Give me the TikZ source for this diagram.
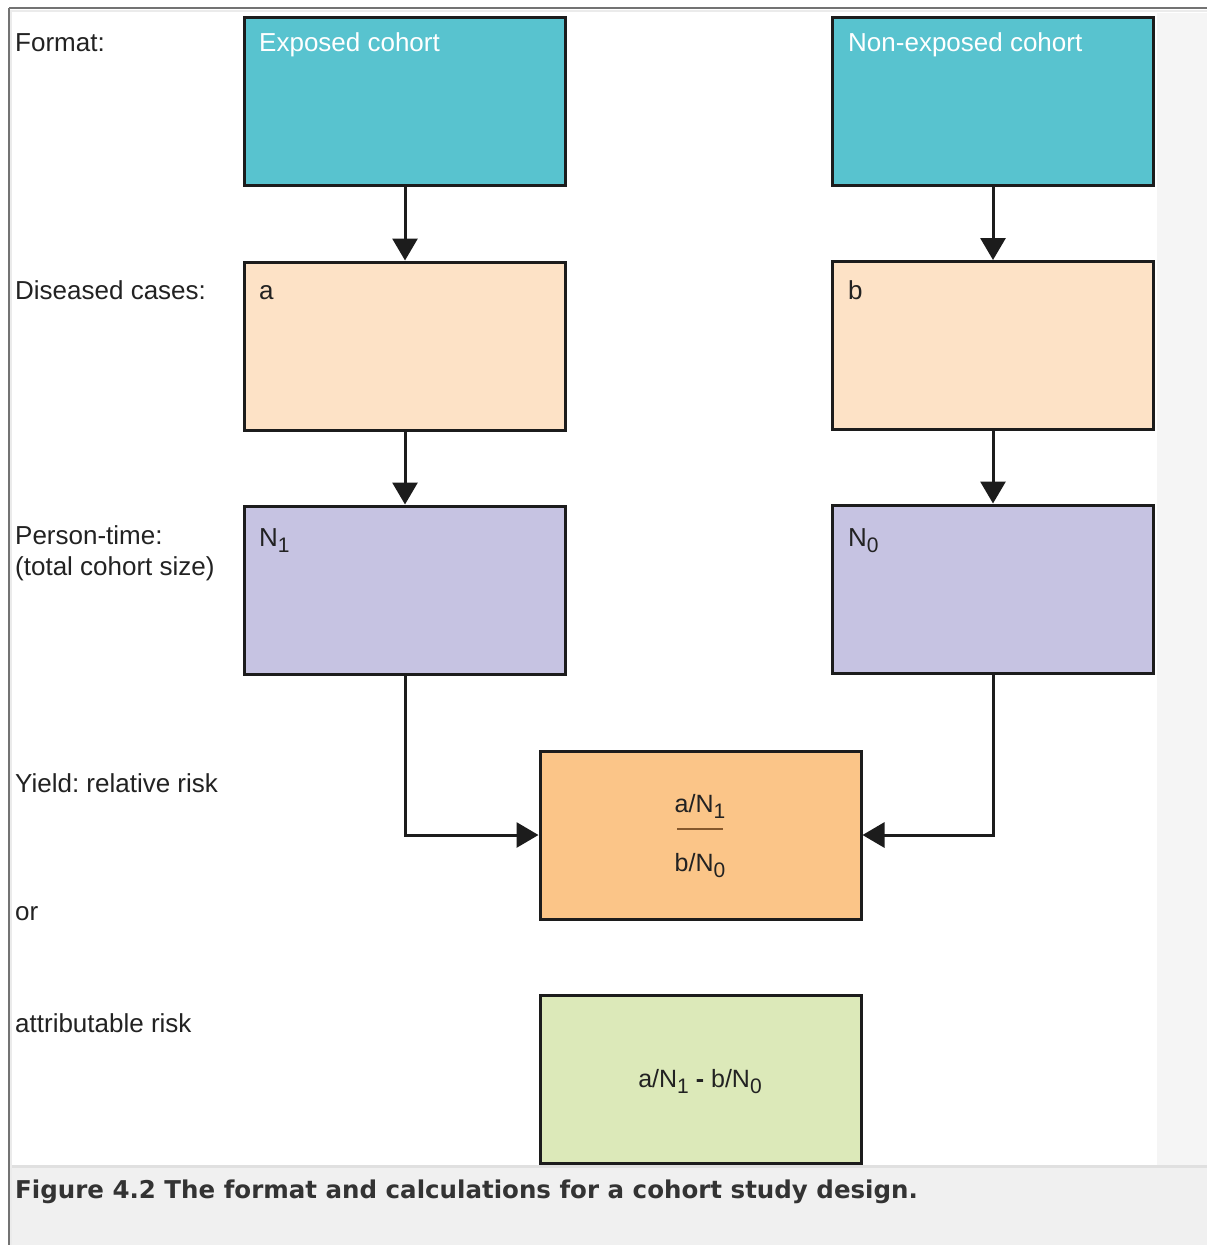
\documentclass[tikz,border=0pt]{standalone}
\usepackage{fontspec}
\setmainfont{Liberation Sans}
\newfontfamily\capfont{DejaVu Sans}
\usetikzlibrary{arrows.meta}
\frenchspacing
\definecolor{teal1}{HTML}{58C3CF}
\definecolor{peach}{HTML}{FDE2C6}
\definecolor{lav}{HTML}{C6C3E2}
\definecolor{orng}{HTML}{FBC588}
\definecolor{lgreen}{HTML}{DCE9B9}
\definecolor{edge}{HTML}{1C1C1C}
\definecolor{txt}{HTML}{222222}
\definecolor{pagegray}{HTML}{F0F0F0}
\newcommand{\lowidx}[1]{\raisebox{-6.5pt}{\fontsize{21}{21}\selectfont #1}}
\tikzset{
  box/.style={draw=edge, line width=3pt, rectangle, inner sep=0pt, minimum width=321pt, minimum height=168pt},
  lbl/.style={anchor=base west, inner sep=0pt, text=txt, font=\fontsize{26}{31}\selectfont, align=left},
  boxtxt/.style={anchor=base west, inner sep=0pt, text=txt, font=\fontsize{26}{30}\selectfont},
  ctr/.style={anchor=base, inner sep=0pt, text=txt, font=\fontsize{25}{28}\selectfont},
  conn/.style={draw=edge, line width=3pt, -{Triangle[width=25pt,length=22pt]}}
}
\begin{document}
\begin{tikzpicture}[x=1pt,y=-1pt]
\useasboundingbox (0,0) rectangle (1207,1245);
\fill[white] (0,0) rectangle (1207,1245);
% page chrome
\fill[pagegray!70!white] (1157,13) rectangle (1207,1165);
\fill[pagegray] (10,1165) rectangle (1207,1245);
\draw[line width=3pt, color=black!12] (10,1166.5) -- (1207,1166.5);
\draw[line width=2pt, color=black!55] (9,8) -- (1207,8);
\draw[line width=2pt, color=black!55] (9,8) -- (9,1245);
\draw[line width=2pt, color=black!8] (11,10) -- (11,1245);
\draw[line width=2pt, color=black!8] (11,11) -- (1207,11);
% boxes
\node[box, fill=teal1] (exp) at (405,101.5) {};
\node[box, fill=teal1] (nexp) at (993,101) {};
\node[box, fill=peach] (ca) at (405,346) {};
\node[box, fill=peach] (cb) at (993,345.5) {};
\node[box, fill=lav] (n1) at (405,590) {};
\node[box, fill=lav] (n0) at (993,589) {};
\node[box, fill=orng] (rr) at (700.5,835) {};
\node[box, fill=lgreen] (ar) at (700.5,1079) {};
% box texts
\node[boxtxt, text=white] (t1) at (259,51) {Exposed cohort};
\node[boxtxt, text=white] (t2) at (848,51) {Non-exposed cohort};
\node[boxtxt] (t3) at (259,299) {a};
\node[boxtxt] (t4) at (848,299) {b};
\node[boxtxt] (t5) at (259,546) {N\lowidx{1}};
\node[boxtxt] (t6) at (848,546) {N\lowidx{0}};
\node[ctr] (f1) at (700,812) {a/N\lowidx{1}};
\node[ctr] (f2) at (700,871) {b/N\lowidx{0}};
\draw[line width=2.5pt, color=brown!70!black] (677,829) -- (723,829);
\node[ctr] (f3) at (700,1087) {a/N\lowidx{1} \textbf{-} b/N\lowidx{0}};
% left labels
\node[lbl] (l1) at (15,51) {Format:};
\node[lbl] (l2) at (15,299) {Diseased cases:};
\node[lbl] (l3) at (15,575) {Person-time:\\(total cohort size)};
\node[lbl] (l4) at (15,792) {Yield: relative risk};
\node[lbl] (l5) at (15,920) {or};
\node[lbl] (l6) at (15,1032) {attributable risk};
% connectors
\draw[conn] (exp.south) -- (ca.north);
\draw[conn] (nexp.south) -- (cb.north);
\draw[conn] (ca.south) -- (n1.north);
\draw[conn] (cb.south) -- (n0.north);
\draw[conn] (n1.south) |- (rr.west);
\draw[conn] (n0.south) |- (rr.east);
% caption
\node[anchor=base west, inner sep=0pt, text=black!80, font=\capfont\bfseries\fontsize{24.5}{28}\selectfont] (cap) at (15,1198) {Figure 4.2 The format and calculations for a cohort study design.};
\end{tikzpicture}
\end{document}
